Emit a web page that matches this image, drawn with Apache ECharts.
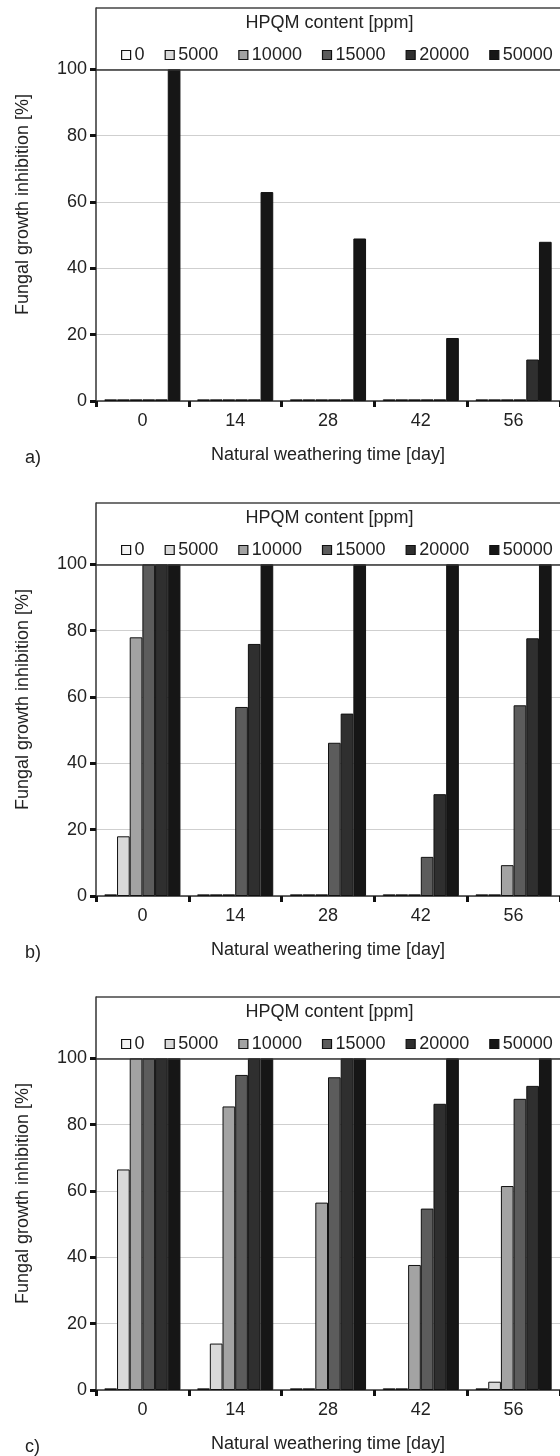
<!DOCTYPE html>
<html>
<head>
<meta charset="utf-8">
<script src="https://cdn.jsdelivr.net/npm/echarts@6/dist/echarts.min.js"></script>
<style>
  html, body { margin: 0; padding: 0; background: #fff; }
  #chart { width: 560px; height: 1456px; }
</style>
</head>
<body>
<div id="chart"></div>
<script>
// Natural weathering time (days) on the category axis
const days = ['0', '14', '28', '42', '56'];
// HPQM content levels (ppm), one bar series each
const ppmLevels = ['0', '5000', '10000', '15000', '20000', '50000'];
// Y axis tick labels (%)
const yTicks = [0, 20, 40, 60, 80, 100];
const panelLetters = ['a)', 'b)', 'c)'];

// Fungal growth inhibition [%]; one row per HPQM level, one column per day
const panelA = [
  [0.5, 0.5, 0.5, 0.5, 0.5],
  [0.5, 0.5, 0.5, 0.5, 0.5],
  [0.5, 0.5, 0.5, 0.5, 0.5],
  [0.5, 0.5, 0.5, 0.5, 0.5],
  [0.5, 0.5, 0.5, 0.5, 12.5],
  [100, 63, 49, 19, 48]
];
const panelB = [
  [0.5, 0.5, 0.5, 0.5, 0.5],
  [18, 0.5, 0.5, 0.5, 0.5],
  [78, 0.5, 0.5, 0.5, 9.3],
  [100, 57, 46.2, 11.8, 57.5],
  [100, 76, 55, 30.7, 77.7],
  [100, 100, 100, 100, 100]
];
const panelC = [
  [0.5, 0.5, 0.5, 0.5, 0.5],
  [66.5, 14, 0.5, 0.5, 2.5],
  [100, 85.5, 56.5, 37.7, 61.5],
  [100, 95, 94.3, 54.7, 87.8],
  [100, 100, 100, 86.3, 91.7],
  [100, 100, 100, 100, 100]
];
const panels = [panelA, panelB, panelC];

// Grey ramp used for the HPQM levels
const fills = ['#f4f4f4', '#d9d9d9', '#a3a3a3', '#5c5c5c', '#2f2f2f', '#161616'];

const FONT = '"Liberation Sans", Arial, sans-serif';
const TEXT = '#222';
const offsets = [0, 495, 989];
const gridLeft = 96, gridWidth = 467, gridTop = 8, gridHeight = 393;
const yMax = 118.5;

const grids = [], xAxes = [], yAxes = [], series = [], legends = [], graphics = [];

offsets.forEach((off, p) => {
  grids.push({
    left: gridLeft, top: gridTop + off, width: gridWidth, height: gridHeight,
    show: false
  });
  xAxes.push({
    type: 'category', gridIndex: p, data: days,
    axisLine: { lineStyle: { color: '#333', width: 1.5 } },
    axisTick: { show: true, interval: 0, length: 6, lineStyle: { color: '#111', width: 3 } },
    axisLabel: { fontSize: 18, color: TEXT, fontFamily: FONT, margin: 11 },
    name: 'Natural weathering time [day]', nameLocation: 'middle', nameGap: 45,
    nameTextStyle: { fontSize: 18, color: TEXT, fontFamily: FONT }
  });
  yAxes.push({
    type: 'value', gridIndex: p, min: 0, max: yMax, interval: 20,
    axisLine: { show: true, lineStyle: { color: '#333', width: 1.5 } },
    axisTick: { show: true, length: 6, customValues: yTicks, lineStyle: { color: '#111', width: 3 } },
    axisLabel: { fontSize: 18, color: TEXT, fontFamily: FONT, margin: 9, customValues: yTicks },
    splitLine: { show: true, lineStyle: { color: '#cfcfcf', width: 1.2 } },
    name: 'Fungal growth inhibition [%]', nameLocation: 'middle', nameGap: 64,
    nameTextStyle: { fontSize: 18, color: TEXT, fontFamily: FONT }
  });
  ppmLevels.forEach((lvl, i) => {
    const s = {
      type: 'bar', name: lvl, xAxisIndex: p, yAxisIndex: p,
      data: panels[p][i],
      barGap: 0, barCategoryGap: '18%',
      itemStyle: { color: fills[i], borderColor: '#111', borderWidth: 1 },
      emphasis: { disabled: true }
    };
    if (i === ppmLevels.length - 1) {
      // solid rule under the legend band at 100 %
      s.markLine = {
        silent: true, symbol: 'none', animation: false,
        label: { show: false },
        lineStyle: { color: '#333', width: 1.6, type: 'solid' },
        data: [{ yAxis: 100 }]
      };
    }
    series.push(s);
  });
  legends.push({
    data: ppmLevels, left: 116, top: 41 + off,
    itemWidth: 9, itemHeight: 9, itemGap: 20, icon: 'rect',
    selectedMode: false,
    itemStyle: { borderColor: '#111', borderWidth: 1.2 },
    textStyle: { fontSize: 18, color: TEXT, fontFamily: FONT, padding: [0, 0, 0, -1] }
  });
  // top edge of the plot frame
  graphics.push({
    type: 'line', silent: true,
    shape: { x1: gridLeft, y1: gridTop + off, x2: 560, y2: gridTop + off },
    style: { stroke: '#444', lineWidth: 1.5 }
  });
  graphics.push({
    type: 'text', left: gridLeft + gridWidth / 2 - 84, top: 14 + off,
    style: { text: 'HPQM content [ppm]', fontSize: 18, fill: TEXT, fontFamily: FONT }
  });
  graphics.push({
    type: 'text', left: 25, top: 449 + off,
    style: { text: panelLetters[p], fontSize: 18, fill: TEXT, fontFamily: FONT }
  });
});

const chart = echarts.init(document.getElementById('chart'), null, { renderer: 'canvas' });
chart.setOption({
  animation: false,
  backgroundColor: '#fff',
  grid: grids,
  xAxis: xAxes,
  yAxis: yAxes,
  legend: legends,
  graphic: graphics,
  series: series
});
</script>
</body>
</html>
